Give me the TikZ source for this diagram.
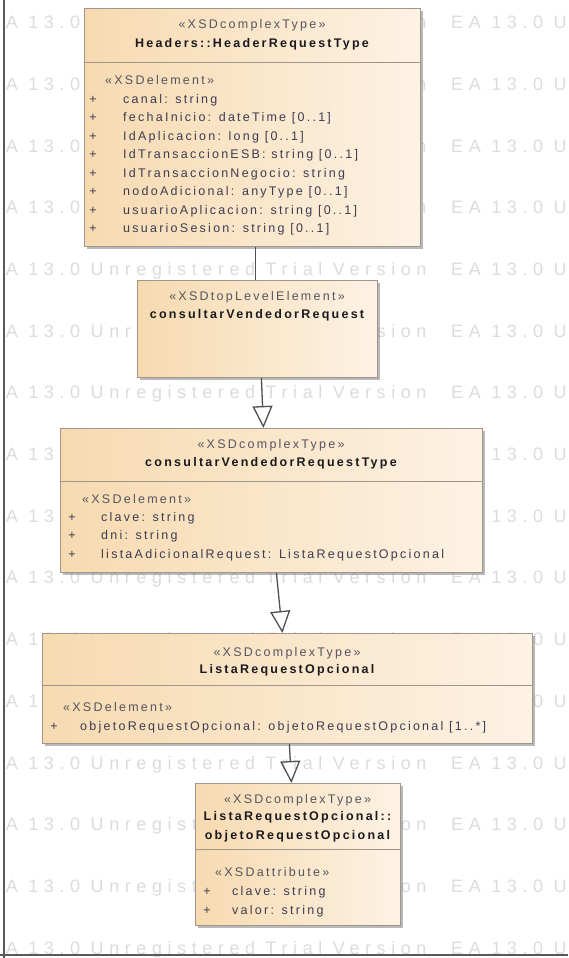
\documentclass[tikz,border=0pt]{standalone}
\usepackage{fontspec}
\setmainfont{Liberation Sans}
\newfontfamily\boxfont[LetterSpace=18]{Liberation Sans}
\newfontfamily\wmfont[LetterSpace=31]{Liberation Sans}
\usetikzlibrary{shadows,arrows.meta}

\definecolor{eapeach}{RGB}{247,218,176}
\definecolor{ealight}{RGB}{253,242,228}
\definecolor{eaborder}{RGB}{160,150,140}
\definecolor{eatext}{RGB}{60,60,82}
\definecolor{eastereo}{RGB}{85,85,95}
\definecolor{eaname}{RGB}{25,25,30}
\definecolor{wmgray}{RGB}{220,220,222}
\definecolor{linkgray}{RGB}{80,80,80}

\begin{document}
\begin{tikzpicture}[x=1pt, y=-1pt,
    classbox/.style={draw=eaborder, line width=0.8pt, left color=eapeach, right color=ealight,
        drop shadow={shadow xshift=3pt, shadow yshift=-3pt, opacity=0.55},
        inner sep=0pt, anchor=north west},
    divline/.style={draw=eaborder, line width=0.8pt},
    boxtext/.style={inner sep=0pt, text height=9pt, text depth=2.5pt,
        font=\boxfont\fontsize{12.5}{15}\selectfont},
    stereo/.style={boxtext, text=eastereo},
    cname/.style={boxtext, text=eaname, font=\boxfont\bfseries\fontsize{12.5}{15}\selectfont},
    attr/.style={boxtext, text=eatext, anchor=west},
    vis/.style={boxtext, text=eatext},
    wmtext/.style={inner sep=0pt, anchor=west, text=wmgray,
        font=\wmfont\fontsize{18}{20}\selectfont},
    link/.style={draw=linkgray, line width=1.3pt},
    gen/.style={link, -{Triangle[open, width=20pt, length=22pt, line width=1.3pt]}},
    frameline/.style={draw=black!65, line width=1.5pt}]

    \useasboundingbox (0,0) rectangle (568,958);
    \fill[white] (0,0) rectangle (568,958);

    % watermark rows
    \foreach \k in {0,...,15} {
        \node[wmtext] (wma\k) at (-12,{24+61.7*\k}) {EA 13.0 Unregistered Trial Version};
        \node[wmtext] (wmb\k) at (451,{24+61.7*\k}) {EA 13.0 Unregistered Trial Version};
    }

    % Headers::HeaderRequestType
    \node[classbox, minimum width=336pt, minimum height=238pt] (hdr) at (84,8) {};
    \draw[divline] ([yshift=-54pt]hdr.north west) -- ([yshift=-54pt]hdr.north east);
    \node[stereo] (hdrs) at (252,25) {«XSDcomplexType»};
    \node[cname] (hdrn) at (252,44) {Headers::HeaderRequestType};
    \node[stereo, anchor=west] (hdre) at (105,81) {«XSDelement»};
    \foreach \t [count=\i] in {canal: string, fechaInicio: dateTime [0..1],
        IdAplicacion: long [0..1], IdTransaccionESB: string [0..1],
        IdTransaccionNegocio: string, nodoAdicional: anyType [0..1],
        usuarioAplicacion: string [0..1], usuarioSesion: string [0..1]} {
        \node[vis] (hdrp\i) at (93,{100+18.5*(\i-1)}) {+};
        \node[attr] (hdra\i) at (123,{100+18.5*(\i-1)}) {\t};
    }

    % consultarVendedorRequest
    \node[classbox, minimum width=240pt, minimum height=97pt] (req) at (137,280) {};
    \node[stereo] (reqs) at (257,297) {«XSDtopLevelElement»};
    \node[cname] (reqn) at (257,315) {consultarVendedorRequest};

    % consultarVendedorRequestType
    \node[classbox, minimum width=422pt, minimum height=144pt] (rqt) at (60,428) {};
    \draw[divline] ([yshift=-53pt]rqt.north west) -- ([yshift=-53pt]rqt.north east);
    \node[stereo] (rqts) at (271,445) {«XSDcomplexType»};
    \node[cname] (rqtn) at (271,463) {consultarVendedorRequestType};
    \node[stereo, anchor=west] (rqte) at (82,500) {«XSDelement»};
    \foreach \t [count=\i] in {clave: string, dni: string,
        listaAdicionalRequest: ListaRequestOpcional} {
        \node[vis] (rqtp\i) at (72,{518+18.5*(\i-1)}) {+};
        \node[attr] (rqta\i) at (101,{518+18.5*(\i-1)}) {\t};
    }

    % ListaRequestOpcional
    \node[classbox, minimum width=490pt, minimum height=110pt] (lro) at (42,633) {};
    \draw[divline] ([yshift=-52pt]lro.north west) -- ([yshift=-52pt]lro.north east);
    \node[stereo] (lros) at (287,653) {«XSDcomplexType»};
    \node[cname] (lron) at (287,670) {ListaRequestOpcional};
    \node[stereo, anchor=west] (lroe) at (63,708) {«XSDelement»};
    \node[vis] (lrop1) at (54,727) {+};
    \node[attr] (lroa1) at (80,727) {objetoRequestOpcional: objetoRequestOpcional [1..*]};

    % ListaRequestOpcional::objetoRequestOpcional
    \node[classbox, minimum width=205pt, minimum height=142pt] (obj) at (195,783) {};
    \draw[divline] ([yshift=-66pt]obj.north west) -- ([yshift=-66pt]obj.north east);
    \node[stereo] (objs) at (297.5,800) {«XSDcomplexType»};
    \node[cname] (objn) at (297.5,817) {ListaRequestOpcional::};
    \node[cname] (objm) at (297.5,836) {objetoRequestOpcional};
    \node[stereo, anchor=west] (obje) at (215,873) {«XSDattribute»};
    \foreach \t [count=\i] in {clave: string, valor: string} {
        \node[vis] (objp\i) at (207,{892+19.5*(\i-1)}) {+};
        \node[attr] (obja\i) at (232,{892+19.5*(\i-1)}) {\t};
    }

    % connectors
    \draw[link] ([xshift=3pt]hdr.south) -- ([xshift=-2pt]req.north);
    \draw[gen] ([xshift=4pt]req.south) -- ([xshift=-8pt]rqt.north);
    \draw[gen] ([xshift=5pt]rqt.south) -- ([xshift=-5pt]lro.north);
    \draw[gen] ([xshift=2pt]lro.south) -- ([xshift=-6.5pt]obj.north);

    % frame
    \draw[frameline] (4,0) -- (4,958);
    \draw[frameline] (0,955) -- (568,955);
\end{tikzpicture}
\end{document}
